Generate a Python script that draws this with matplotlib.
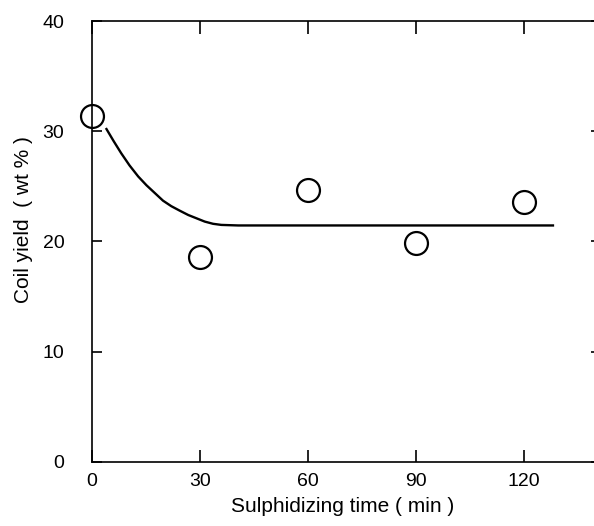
import numpy as np
import matplotlib.pyplot as plt

plt.rcParams['font.family'] = ['Liberation Sans', 'DejaVu Sans']

# measured points
time_min = [0, 30, 60, 90, 120]
coil_yield = [31.4, 18.6, 24.7, 19.9, 23.6]

# fitted curve
curve_x = [4.0, 6.0, 8.1, 10.4, 12.8, 15.1, 17.4, 19.7, 22.0, 24.3, 26.7, 29.0,
           31.3, 33.6, 35.9, 40.6, 60, 90, 128]
curve_y = [30.2, 29.1, 28.0, 26.9, 25.9, 25.1, 24.4, 23.7, 23.2, 22.8, 22.4, 22.1,
           21.8, 21.6, 21.5, 21.45, 21.45, 21.45, 21.45]

fig = plt.figure(figsize=(5.94, 5.26), dpi=100)
ax = fig.add_axes([0.155, 0.122, 0.845, 0.838])

ax.plot(curve_x, curve_y, '-k', lw=1.7, solid_joinstyle='round')
ax.plot(time_min, coil_yield, 'o', ms=16.5, mfc='none', mec='k', mew=1.6,
        clip_on=False, zorder=5)

ax.set_xlim(0, 139.4)
ax.set_ylim(0, 40)
ax.set_xticks([0, 30, 60, 90, 120])
ax.set_yticks([0, 10, 20, 30, 40])

ax.spines['right'].set_visible(False)
for s in ['left', 'top', 'bottom']:
    ax.spines[s].set_linewidth(1.2)

ax.tick_params(axis='x', direction='in', length=9, width=1.2, pad=8,
               labelsize=14, top=True)
ax.tick_params(axis='y', direction='in', length=7, width=1.2, pad=20,
               labelsize=14, right=True)
for t in ax.yaxis.get_ticklines()[1::2]:
    t.set_markersize(2)

ax.set_xlabel('Sulphidizing time ( min )', fontsize=15, labelpad=5)
ax.set_ylabel('Coil yield  ( wt % )', fontsize=15)
ax.yaxis.set_label_coords(-0.118, 0.549)

plt.savefig('out.png', dpi=100)
